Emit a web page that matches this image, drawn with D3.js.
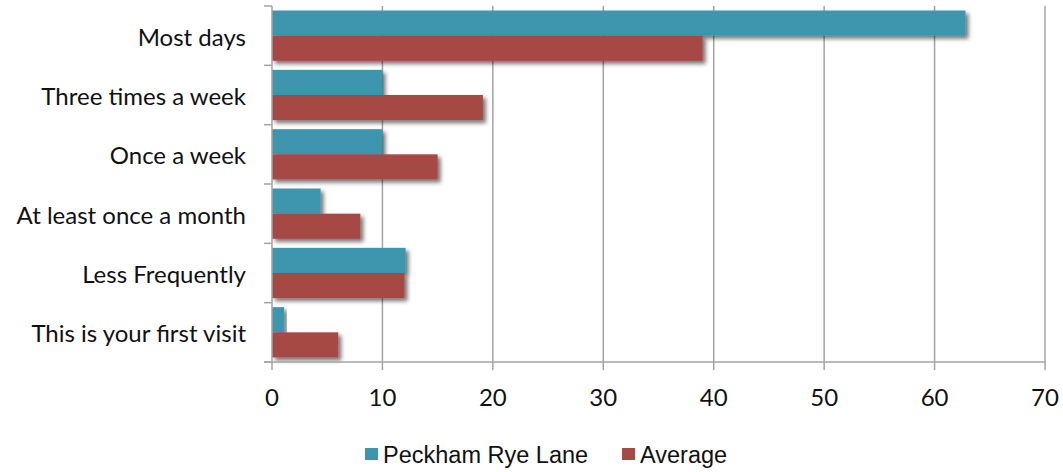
<!DOCTYPE html>
<html>
<head>
<meta charset="utf-8">
<script src="https://cdn.jsdelivr.net/npm/d3@7"></script>
<style>
  html, body { margin: 0; padding: 0; background: #fff; }
  svg { display: block; }
</style>
</head>
<body>
<svg id="chart" width="1063" height="472"></svg>
<script>
// Visit frequency: Peckham Rye Lane vs average (%)
const categories = ["Most days", "Three times a week", "Once a week", "At least once a month", "Less Frequently", "This is your first visit"];
const peckham = [62.8, 10.0, 10.0, 4.4, 12.1, 1.1];
const average = [39.0, 19.1, 15.0, 8.0, 12.0, 6.0];
const seriesNames = ["Peckham Rye Lane", "Average"];
const xTicks = [0, 10, 20, 30, 40, 50, 60, 70];
const colors = ["#3C96AE", "#A64A44"];

const svg = d3.select("#chart");
const margin = { left: 272, right: 18, top: 6, bottom: 110 };
const W = 1063, H = 472;
const plotBottom = H - margin.bottom; // 362

const x = d3.scaleLinear().domain([0, 70]).range([margin.left, W - margin.right]);
const y = d3.scaleBand().domain(categories).range([margin.top, plotBottom]);
const inner = d3.scaleBand().domain(seriesNames).range([0, y.bandwidth()]).paddingOuter(0.18).paddingInner(0);

// Soft drop shadow under each bar
const defs = svg.append("defs");
const f = defs.append("filter").attr("id", "shadow").attr("x", "-10%").attr("y", "-30%").attr("width", "130%").attr("height", "180%");
f.append("feGaussianBlur").attr("in", "SourceAlpha").attr("stdDeviation", 2.2).attr("result", "b");
f.append("feOffset").attr("in", "b").attr("dx", 3).attr("dy", 3).attr("result", "o");
f.append("feComponentTransfer").attr("in", "o").attr("result", "s")
  .append("feFuncA").attr("type", "linear").attr("slope", 0.55);
const m = f.append("feMerge");
m.append("feMergeNode").attr("in", "s");
m.append("feMergeNode").attr("in", "SourceGraphic");

// Vertical gridlines
svg.append("g").selectAll("line").data(xTicks.slice(1)).join("line")
  .attr("x1", d => x(d)).attr("x2", d => x(d))
  .attr("y1", margin.top).attr("y2", plotBottom + 8)
  .attr("stroke", "#a3a3a3").attr("stroke-width", 1.5);

// Bars
const rows = categories.map((c, i) => ({ c, vals: [peckham[i], average[i]] }));
const g = svg.append("g");
rows.forEach(r => {
  r.vals.forEach((v, j) => {
    g.append("rect")
      .attr("x", x(0))
      .attr("y", y(r.c) + inner(seriesNames[j]))
      .attr("width", x(v) - x(0))
      .attr("height", inner.bandwidth())
      .attr("fill", colors[j])
      .attr("filter", "url(#shadow)");
  });
});

// Y axis line and ticks
svg.append("line").attr("x1", x(0)).attr("x2", x(0)).attr("y1", margin.top).attr("y2", plotBottom + 8)
  .attr("stroke", "#a3a3a3").attr("stroke-width", 1.5);
const yTickPos = categories.map(c => y(c)).concat([plotBottom]);
svg.append("g").selectAll("line").data(yTickPos).join("line")
  .attr("x1", x(0) - 8).attr("x2", x(0)).attr("y1", d => d).attr("y2", d => d)
  .attr("stroke", "#a3a3a3").attr("stroke-width", 1.5);
// X axis line
svg.append("line").attr("x1", x(0) - 8).attr("x2", x(70)).attr("y1", plotBottom).attr("y2", plotBottom)
  .attr("stroke", "#a3a3a3").attr("stroke-width", 1.5);

// Category labels
svg.append("g").selectAll("text").data(categories).join("text")
  .attr("x", 246).attr("y", d => y(d) + y.bandwidth() / 2 + 10)
  .attr("text-anchor", "end")
  .attr("font-family", "Lato, 'Open Sans', sans-serif").attr("font-size", 24).attr("fill", "#111")
  .text(d => d);

// X tick labels
svg.append("g").selectAll("text").data(xTicks).join("text")
  .attr("x", d => x(d)).attr("y", 406)
  .attr("text-anchor", "middle")
  .attr("font-family", "Lato, 'Open Sans', sans-serif").attr("font-size", 24).attr("fill", "#111")
  .text(d => d);

// Legend
const legendX = [365, 622];
const lg = svg.append("g");
seriesNames.forEach((s, i) => {
  lg.append("rect").attr("x", legendX[i]).attr("y", 448).attr("width", 13).attr("height", 12).attr("fill", colors[i]);
  lg.append("text").attr("x", legendX[i] + 18).attr("y", 463)
    .attr("font-family", "'Liberation Sans', Arial, sans-serif").attr("font-size", 23.5).attr("fill", "#111")
    .text(s);
});
</script>
</body>
</html>
